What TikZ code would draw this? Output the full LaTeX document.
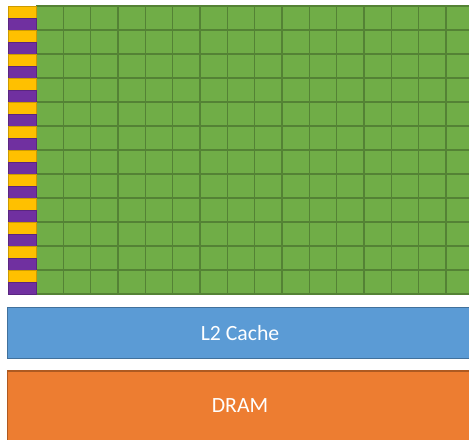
\documentclass[tikz,border=0pt]{standalone}
\usepackage{fontspec}
\setmainfont{Carlito}
\usepackage{xcolor}
\usepackage{tikz}
\usetikzlibrary{positioning}

\definecolor{smgreen}{HTML}{70AD47}
\definecolor{smgrid}{HTML}{548235}
\definecolor{ctlyellow}{HTML}{FFC000}
\definecolor{ctlpurple}{HTML}{7030A0}
\definecolor{cacheblue}{HTML}{5B9BD5}
\definecolor{cacheedge}{HTML}{41719C}
\definecolor{dramorange}{HTML}{ED7D31}
\definecolor{dramedge}{HTML}{AE5A21}

\begin{document}
\begin{tikzpicture}[x=0.75pt, y=-0.75pt,
  membox/.style={draw, line width=0.9pt, minimum width=348.75pt, inner sep=0pt,
    text=white, font=\fontsize{16.3}{19}\selectfont}]
\useasboundingbox (0,0) rectangle (469,440);
\clip (0,0) rectangle (469,440);
% cores
\fill[smgreen] (36,6) rectangle (473,294);
\foreach \c in {0,...,16}
  \draw[smgrid, line width=1.1pt] (36+27.33*\c,6) -- (36+27.33*\c,294);
\foreach \r in {0,...,12}
  \draw[smgrid, line width=1.1pt] (36,6+24*\r) -- (473,6+24*\r);
% control strip
\foreach \r in {0,...,11} {
  \draw[fill=ctlyellow, draw=ctlyellow!80!black, line width=0.4pt] (8,6+24*\r) rectangle (36,18+24*\r);
  \draw[fill=ctlpurple, draw=ctlpurple!80!black, line width=0.4pt] (8,18+24*\r) rectangle (36,30+24*\r);
}
% memory
\node[membox, fill=cacheblue, draw=cacheedge, minimum height=38.25pt] (l2) at (240,333) {L2 Cache};
\node[membox, fill=dramorange, draw=dramedge, minimum height=52.5pt] (dram) at (240,406) {DRAM};
\end{tikzpicture}
\end{document}
